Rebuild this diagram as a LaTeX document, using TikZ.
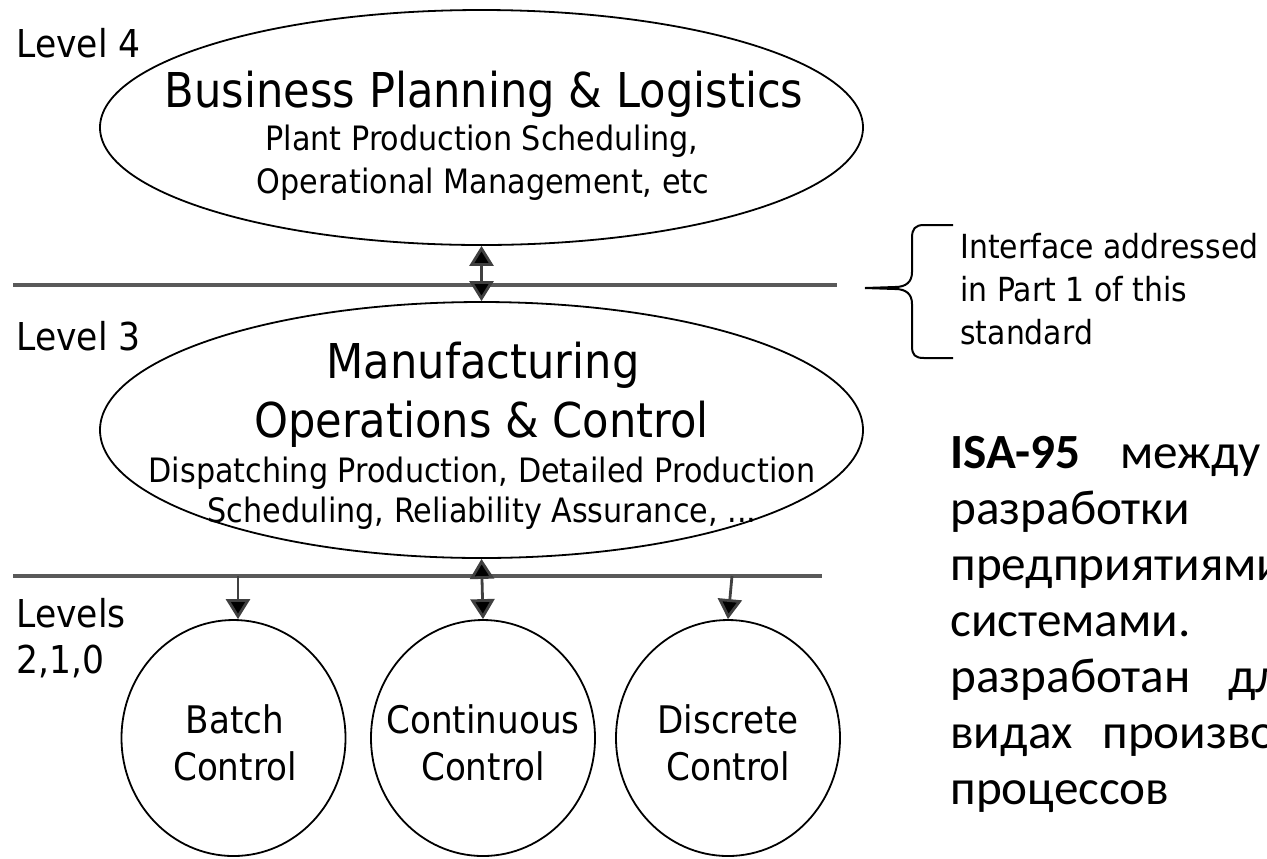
\documentclass[tikz,border=0pt]{standalone}
\usepackage{fontspec}
\newfontfamily\tah[FakeStretch=0.9]{DejaVu Sans}
\newfontfamily\calib{Carlito}
\usetikzlibrary{shapes.geometric,arrows.meta}
\begin{document}
\begin{tikzpicture}[x=0.5pt,y=-0.5pt,
  ell/.style={ellipse, draw=black, line width=0.9pt, inner sep=0pt},
  big/.style={inner sep=0pt, anchor=base, font=\tah\fontsize{24}{28}\selectfont},
  small/.style={inner sep=0pt, anchor=base, font=\tah\fontsize{16.8}{20}\selectfont},
  circtext/.style={inner sep=0pt, anchor=base, font=\tah\fontsize{19}{23}\selectfont},
  lvl/.style={inner sep=0pt, anchor=base west, font=\tah\fontsize{19.2}{23}\selectfont},
  note/.style={inner sep=0pt, anchor=base west, font=\tah\fontsize{16.6}{20}\selectfont},
  rus/.style={inner sep=0pt, anchor=base west, font=\calib\fontsize{24.6}{29}\selectfont},
  hline/.style={draw=black!65, line width=1.6pt},
  tip/.tip={Triangle[width=12pt,length=10pt,fill=black]},
  arr/.style={draw=black!75, line width=1.4pt, -tip},
  darr/.style={draw=black!75, line width=1.4pt, tip-tip},
  bracestyle/.style={draw=black, line width=1pt}
]
\useasboundingbox (0,0) rectangle (1267,858);
\fill[white] (0,0) rectangle (1267,858);

% level labels
\node[lvl] (lv4) at (16,57) {Level 4};
\node[lvl] (lv3) at (16,350) {Level 3};
\node[lvl] (lv2a) at (16,627) {Levels};
\node[lvl] (lv2b) at (16,673) {2,1,0};

% ellipses
\node[ell, minimum width=381.5pt, minimum height=117.5pt] (e1) at (481.5,127.5) {};
\node[big] (t1) at (484,107) {Business Planning \& Logistics};
\node[small] (t1b) at (482,150) {Plant Production Scheduling,};
\node[small] (t1c) at (483,193) {Operational Management, etc};

\node[ell, minimum width=381.5pt, minimum height=128pt] (e2) at (481.5,430) {};
\node[big] (t2) at (483,378) {Manufacturing};
\node[big] (t2b) at (481.5,437) {Operations \& Control};
\node[small] (t2c) at (482,482) {Dispatching Production, Detailed Production};
\node[small] (t2d) at (482,522) {Scheduling, Reliability Assurance, ...};

% circles
\node[ell, minimum width=112pt, minimum height=118pt] (c1) at (233.5,738) {};
\node[ell, minimum width=112pt, minimum height=118pt] (c2) at (483,738) {};
\node[ell, minimum width=112pt, minimum height=118pt] (c3) at (728,738) {};
\node[circtext] (c1a) at (235,733) {Batch};
\node[circtext] (c1b) at (235,780) {Control};
\node[circtext] (c2a) at (483,733) {Continuous};
\node[circtext] (c2b) at (483,780) {Control};
\node[circtext] (c3a) at (728,733) {Discrete};
\node[circtext] (c3b) at (728,780) {Control};

% horizontal lines
\coordinate (h1w) at (13,285);
\coordinate (h1e) at (837,285);
\coordinate (h2w) at (13,576);
\coordinate (h2e) at (822,576);
\draw[hline] (h1w) -- (h1e);
\draw[hline] (h2w) -- (h2e);

% arrows
\draw[darr] (e1.south) -- (e2.north);
\draw[darr] (e2.south) -- (c2.north);
\coordinate (d1) at (238,576);
\coordinate (d3) at (732,576);
\draw[arr] (d1) -- (d1 |- c1.north);
\draw[arr] (d3) -- (c3.north);

% brace
\draw[bracestyle] (953,225) -- (924,225) .. controls (915,225) and (912,229) .. (912,238) -- (912,272) .. controls (912,282) and (906,287) .. (895,287) -- (865,288);
\draw[bracestyle] (865,288) -- (895,289) .. controls (906,289) and (912,294) .. (912,304) -- (912,346) .. controls (912,355) and (915,358) .. (924,358) -- (953,358);
\node[note] (n1) at (960,258) {Interface addressed};
\node[note] (n2) at (960,301) {in Part 1 of this};
\node[note] (n3) at (960,344) {standard};

% right-hand text (cut by the picture's edge, as in the reference)
\begin{scope}
\clip (0,0) rectangle (1267,858);
\node[rus] (r1a) at (950,468) {\textbf{ISA-95}};
\node[rus] (r1b) at (1120,468) {между};
\node[rus] (r2) at (950,524) {разработки};
\node[rus] (r3) at (950,580) {предприятиями};
\node[rus] (r4) at (950,636) {системами.};
\node[rus] (r5a) at (950,692) {разработан};
\node[rus] (r5b) at (1228,692) {дл};
\node[rus] (r6a) at (950,748) {видах};
\node[rus] (r6b) at (1102,748) {произво};
\node[rus] (r7) at (950,804) {процессов};
\end{scope}
\end{tikzpicture}
\end{document}
